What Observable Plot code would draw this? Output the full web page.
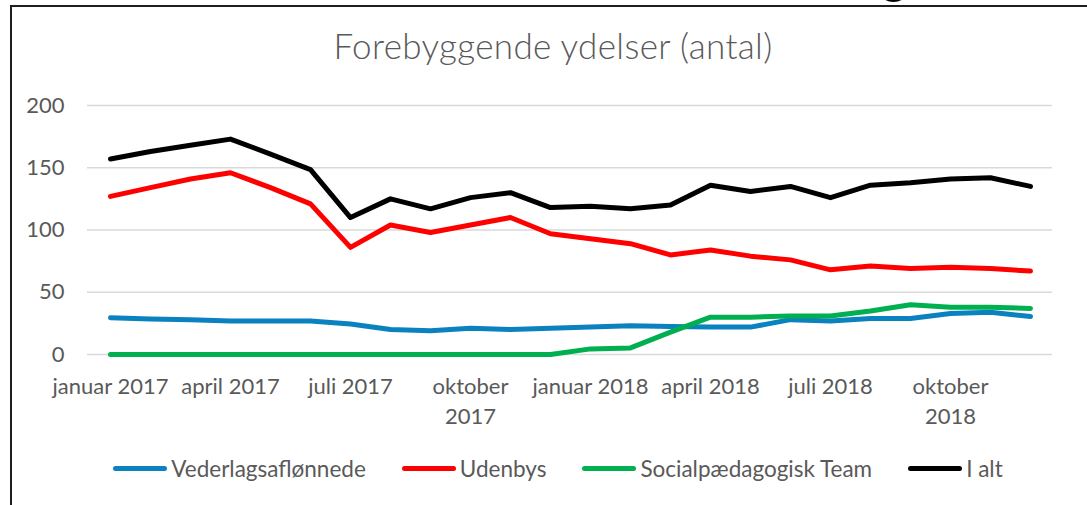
<!DOCTYPE html>
<html>
<head>
<meta charset="utf-8">
<script src="https://cdn.jsdelivr.net/npm/d3@7"></script>
<script src="https://cdn.jsdelivr.net/npm/@observablehq/plot@0.6"></script>
<style>
  html, body { margin: 0; padding: 0; background: #fff; overflow: hidden; }
  body { width: 1087px; height: 505px; position: relative; font-family: Lato, "Open Sans", sans-serif; }
  #frame { position: absolute; left: 10px; top: 5px; width: 1100px; height: 540px; border: 2px solid #1e1e1e; box-sizing: border-box; }
  #cut { position: absolute; left: 880px; top: -18px; width: 27px; height: 20px; border-radius: 50%; background: #000; }
  #title { position: absolute; left: 253px; width: 600px; top: 25px; text-align: center; font-size: 35px; font-weight: 300; letter-spacing: 0.35px; color: #595959; line-height: 40px; }
  #chart { position: absolute; left: 0; top: 90px; }
  #legend { position: absolute; left: 0; width: 1116px; top: 455px; height: 26px; display: flex; justify-content: center; align-items: center; font-size: 22.5px; color: #595959; }
  .item { display: flex; align-items: center; margin: 0 18px; }
  .sw { width: 54px; min-width: 54px; height: 5px; border-radius: 3px; margin-right: 4px; }
</style>
</head>
<body>
<div id="frame"></div>
<div id="cut"></div>
<div id="title">Forebyggende ydelser (antal)</div>
<div id="chart"></div>
<div id="legend"></div>
<script>
const months = [
  "januar 2017", "februar 2017", "marts 2017", "april 2017", "maj 2017", "juni 2017",
  "juli 2017", "august 2017", "september 2017", "oktober 2017", "november 2017", "december 2017",
  "januar 2018", "februar 2018", "marts 2018", "april 2018", "maj 2018", "juni 2018",
  "juli 2018", "august 2018", "september 2018", "oktober 2018", "november 2018", "december 2018"
];
const xTicks = ["januar 2017", "april 2017", "juli 2017", "oktober 2017", "januar 2018", "april 2018", "juli 2018", "oktober 2018"];
const yTicks = [0, 50, 100, 150, 200];

const seriesNames = ["Vederlagsaflønnede", "Udenbys", "Socialpædagogisk Team", "I alt"];
const seriesColors = ["#0A82BF", "#FF0000", "#00B050", "#000000"];

const vederlag = [29.5, 28.5, 28, 27, 27, 27, 24.5, 20, 19, 21, 20, 21, 22, 23, 22.5, 22, 22, 28, 27, 29, 29, 33, 34, 30.5];
const udenbys = [127, 134, 141, 146, 134, 121, 86, 104, 98, 104, 110, 97, 93, 89, 80, 84, 79, 76, 68, 71, 69, 70, 69, 67];
const social = [0, 0, 0, 0, 0, 0, 0, 0, 0, 0, 0, 0, 4.5, 5.3, 18, 30, 30, 31, 31, 35, 40, 38, 38, 37];
const ialt = [157, 163, 168, 173, 161, 148.5, 110, 125, 117, 126, 130, 118, 119, 117, 120, 136, 131, 135, 126, 136, 138, 141, 142, 135];

const seriesValues = [vederlag, udenbys, social, ialt];
const rows = seriesValues.flatMap((vals, s) =>
  vals.map((v, i) => ({ month: months[i], value: v, series: seriesNames[s] }))
);

const chart = Plot.plot({
  width: 1087,
  height: 350,
  marginLeft: 87,
  marginRight: 35,
  marginTop: 15,
  marginBottom: 86,
  style: { fontFamily: "Lato, 'Open Sans', sans-serif", fontSize: "22px", color: "#595959", background: "transparent" },
  x: { type: "point", domain: months, padding: 0.485 },
  y: { domain: [0, 200] },
  color: { domain: seriesNames, range: seriesColors },
  marks: [
    Plot.ruleY(yTicks, { stroke: "#d9d9d9", strokeWidth: 1.4 }),
    Plot.axisY({ ticks: yTicks, tickSize: 0, tickPadding: 23, label: null, fill: "#595959" }),
    Plot.axisX({
      ticks: xTicks, tickSize: 0, tickPadding: 18, label: null, fill: "#595959",
      lineHeight: 1.36,
      tickFormat: d => d.startsWith("oktober") ? d.replace(" ", "\n") : d
    }),
    Plot.line(rows, {
      x: "month", y: "value", z: "series", stroke: "series",
      strokeWidth: 5, strokeLinejoin: "round", strokeLinecap: "round"
    })
  ]
});
document.getElementById("chart").appendChild(chart);

const legend = document.getElementById("legend");
seriesNames.forEach((name, i) => {
  const item = document.createElement("div");
  item.className = "item";
  const sw = document.createElement("div");
  sw.className = "sw";
  sw.style.background = seriesColors[i];
  const label = document.createElement("span");
  label.textContent = name;
  item.appendChild(sw);
  item.appendChild(label);
  legend.appendChild(item);
});
</script>
</body>
</html>
